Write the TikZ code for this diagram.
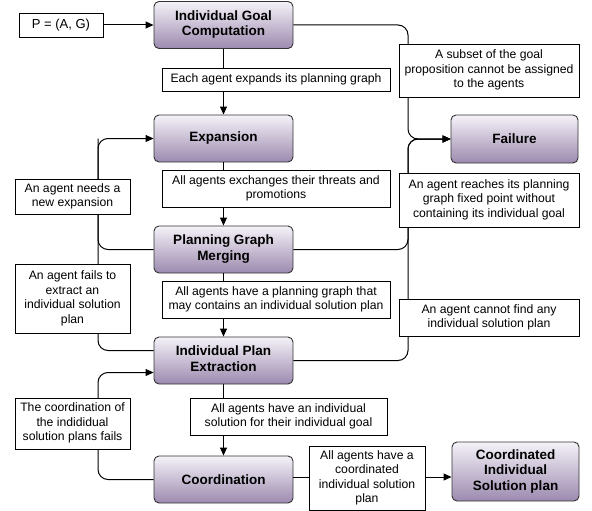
\documentclass[tikz,border=0pt]{standalone}
\usepackage{fontspec}
\setmainfont{Liberation Sans}
\usetikzlibrary{arrows.meta, calc}
\definecolor{boxtop}{HTML}{F5F2F8}
\definecolor{boxbot}{HTML}{9C8AAF}
\definecolor{boxline}{HTML}{333333}
\newcommand{\cellstack}[1]{\begin{tabular}{@{}c@{}}#1\end{tabular}}

\tikzset{
  stage/.style={draw=boxline, line width=0.9pt, rounded corners=5pt,
    top color=boxtop, bottom color=boxbot, minimum width=139pt,
    minimum height=47pt, inner sep=2pt,
    font=\fontsize{13.5}{15.5}\selectfont\bfseries},
  cond/.style={draw=black, line width=0.7pt, fill=white,
    inner xsep=2pt, inner ysep=1pt, minimum width=#1,
    font=\fontsize{12.2}{14.5}\selectfont},
  flow/.style={line width=1pt, rounded corners=10pt,
    -{Triangle[length=8pt,width=7pt]}},
  link/.style={line width=1pt, rounded corners=10pt}
}

\begin{document}
\begin{tikzpicture}[x=1pt, y=-1pt]
    \useasboundingbox (0,0) rectangle (592,511);
    % Stadia
    \node[draw=black, line width=0.7pt, minimum width=84pt, minimum height=24pt,
      font=\fontsize{13}{15}\selectfont] (prob) at (61,25) {P = (A, G)};
    \node[stage] (igc) at (223.5,25) {\cellstack{Individual Goal\\Computation}};
    \node[stage] (exp) at (223.5,138.5) {Expansion};
    \node[stage] (pgm) at (223.5,249.5) {\cellstack{Planning Graph\\Merging}};
    \node[stage] (ipe) at (223.5,360.5) {\cellstack{Individual Plan\\Extraction}};
    \node[stage] (coord) at (223.5,479.5) {Coordination};
    \node[stage, minimum width=127pt, minimum height=48pt] (fail) at (514.5,139) {Failure};
    \node[stage, minimum width=127pt, minimum height=59pt] (cisp) at (515.5,471.5)
      {\cellstack{Coordinated\\Individual\\Solution plan}};
    % Knooppunten van de zijlijnen
    \coordinate (fx) at (408,139);
    \coordinate (ex) at (98,138.5);
    \coordinate (ix) at (98,372.5);
    % Hoofdlijn
    \draw[flow] (prob) -- (igc);
    \draw[flow] (igc) -- (exp);
    \draw[flow] (exp) -- (pgm);
    \draw[flow] (pgm) -- (ipe);
    \draw[flow] (ipe) -- (coord);
    \draw[flow] (coord.east |- 0,477) -- (cisp.west |- 0,477);
    % Naar Failure
    \draw[flow] (igc.east) -| (fx) -- (fail.west);
    \draw[flow] (pgm.east) -| (fx) -- (fail.west);
    \draw[flow] (ipe.east) -| (fx) -- (fail.west);
    % Terug naar Expansion
    \draw[flow] ($(ipe.west)+(0,-10)$) -| (ex) -- (exp.west);
    \draw[link] (pgm.west) -| (ex);
    % Terug naar Individual Plan Extraction
    \draw[flow] (coord.west) -| (ix) -- (ix -| ipe.west);
    % Voorwaarden
    \node[cond=228pt, minimum height=23pt] (c1) at (276,79.5)
      {Each agent expands its planning graph};
    \node[cond=228pt, minimum height=37pt] (c2) at (276,188.5)
      {\cellstack{All agents exchanges their threats and\\promotions}};
    \node[cond=228pt, minimum height=37pt] (c3) at (276,299.5)
      {\cellstack{All agents have a planning graph that\\may contains an individual solution plan}};
    \node[cond=197pt, minimum height=37pt] (c4) at (288.5,416.5)
      {\cellstack{All agents have an individual\\solution for their individual goal}};
    \node[cond=116pt, minimum height=64pt] (c5) at (367,478)
      {\cellstack{All agents have a\\coordinated\\individual solution\\plan}};
    \node[cond=180pt, minimum height=53pt] (r1) at (489,70.5)
      {\cellstack{A subset of the goal\\proposition cannot be assigned\\to the agents}};
    \node[cond=180pt, minimum height=54pt] (r2) at (489,200)
      {\cellstack{An agent reaches its planning\\graph fixed point without\\containing its individual goal}};
    \node[cond=180pt, minimum height=37pt] (r3) at (489,317.5)
      {\cellstack{An agent cannot find any\\individual solution plan}};
    \node[cond=115pt, minimum height=35pt] (l1) at (72.5,196.5)
      {\cellstack{An agent needs a\\new expansion}};
    \node[cond=115pt, minimum height=69pt] (l2) at (72.5,298.5)
      {\cellstack{An agent fails to\\extract an\\individual solution\\plan}};
    \node[cond=115pt, minimum height=51pt] (l3) at (72.5,423.5)
      {\cellstack{The coordination of\\the indididual\\solution plans fails}};
\end{tikzpicture}
\end{document}
